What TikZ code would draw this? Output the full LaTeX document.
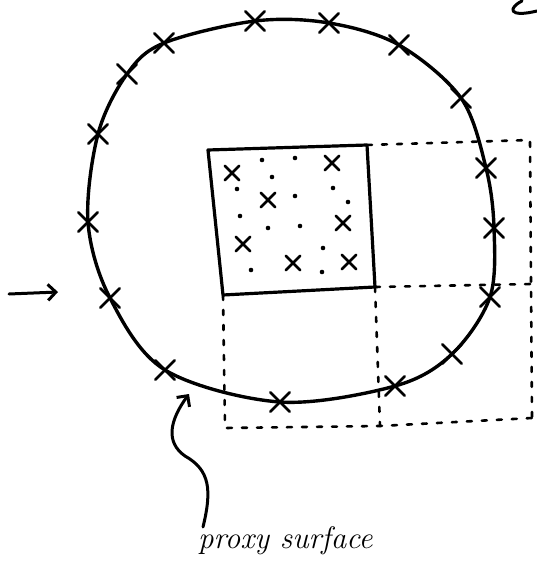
\documentclass[tikz,border=0pt]{standalone}
\usetikzlibrary{arrows.meta,shapes.misc}

\tikzset{
  sample/.style={cross out, draw, line width=2.6pt, minimum size=17pt, inner sep=0pt},
  innersample/.style={cross out, draw, line width=2.6pt, minimum size=12pt, inner sep=0pt},
  grid/.style={line width=2.6pt, dash pattern=on 5pt off 10pt},
}

\begin{document}
\begin{tikzpicture}[x=1pt, y=-1pt, >={Straight Barb[length=8pt,width=16pt]}, line cap=round, line join=round]
  \useasboundingbox (0,0) rectangle (537,575);

  % Proxy-oppervlak
  \draw[line width=3.4pt] plot[smooth cycle, tension=0.55] coordinates {
    (255,21) (329,23) (399,45) (461,98) (486,168) (494,228) (490,297)
    (452,354) (395,386) (280,402) (165,370) (110,298) (88,222) (98,134)
    (127,74) (164,43)};

  % Monsterpunten op het oppervlak
  \foreach \x/\y [count=\i] in {255/21, 329/23, 399/45, 461/98, 486/168,
      494/228, 490/297, 452/354, 395/386, 280/402, 165/370, 110/298,
      88/222, 98/134, 127/74, 164/43}
    \node[sample] (s\i) at (\x,\y) {};

  % Blok met punten
  \coordinate (sqnw) at (208,150);
  \coordinate (sqne) at (367,145);
  \coordinate (sqse) at (375,287);
  \coordinate (sqsw) at (223,295);
  \draw[line width=3.2pt] (sqnw) -- (sqne) -- (sqse) -- (sqsw) -- cycle;

  \foreach \x/\y [count=\i] in {232/173, 332/163, 268/200, 343/223,
      243/244, 293/263, 349/262}
    \node[innersample] (p\i) at (\x,\y) {};

  \foreach \x/\y in {262/160, 295/158, 272/177, 237/189, 333/188, 295/196,
      348/202, 240/216, 268/228, 300/226, 323/248, 251/270, 322/272}
    \fill (\x,\y) circle (2.3pt);

  % Buurcellen
  \coordinate (gtr) at (530,140);
  \coordinate (gmr) at (531,284);
  \coordinate (gbr) at (532,418);
  \coordinate (gbm) at (380,426);
  \coordinate (gbl) at (225,428);
  \draw[grid] (sqne) -- (gtr) -- (gmr) -- (gbr);
  \draw[grid] (sqse) -- (gmr);
  \draw[grid] (sqse) -- (gbm);
  \draw[grid] (sqsw) -- (gbl) -- (gbm) -- (gbr);

  % Invalsrichting
  \coordinate (in0) at (9,294);
  \coordinate (in1) at (58,292);
  \draw[->, line width=3pt] (in0) -- (in1);

  % Label
  \node[font=\fontsize{31}{34}\selectfont\itshape, anchor=base west, inner sep=0pt]
    (lbl) at (198,548) {proxy surface};
  \coordinate (tail) at (203,527);
  \coordinate (tip) at (189,394);
  \draw[->, line width=3pt] (tail) .. controls (212,490) and (210,470) .. (185,456)
    .. controls (165,442) and (170,420) .. (tip);

  % Afgesneden letter
  \draw[line width=3pt] (522,1) .. controls (508,8) and (508,18) .. (537,11);

\end{tikzpicture}
\end{document}
